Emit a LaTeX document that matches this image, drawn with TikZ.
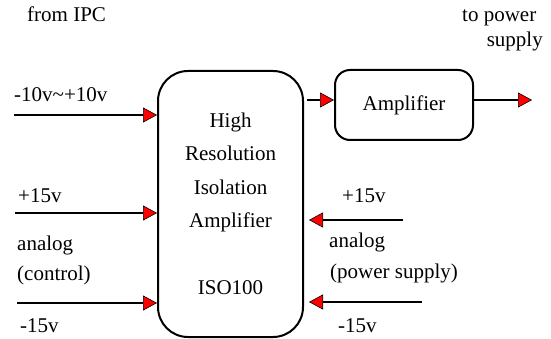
\documentclass[tikz,border=0pt]{standalone}
\usepackage{fontspec}
\setmainfont{Liberation Serif}
\usetikzlibrary{arrows.meta}

\tikzset{
  sig/.style={line width=2pt, -{Triangle[length=14pt,width=15pt,fill=red,line width=0.6pt]}},
  blockbox/.style={draw, line width=2pt, align=center, inner sep=0pt},
  lbl/.style={inner sep=0pt, anchor=base west},
}

\begin{document}
\begin{tikzpicture}[x=1pt, y=-1pt, font=\fontsize{21}{33.5}\selectfont]
    \useasboundingbox (0,0) rectangle (551,339);

    \node[blockbox, rounded corners=30pt, minimum width=145pt, minimum height=266pt] (iso) at (230.5,204) {High\\Resolution\\Isolation\\Amplifier\\[33.5pt]ISO100};
    \node[blockbox, rounded corners=15pt, minimum width=138pt, minimum height=70pt] (amp) at (404,105) {Amplifier};

    \node[lbl] (fromipc) at (27,22) {from IPC};
    \node[lbl] (topower) at (462,22) {to power};
    \node[lbl, anchor=base east] (supply) at (543,47) {supply};
    \node[lbl] (range) at (14,102) {-10v\textasciitilde+10v};

    \node[lbl] (pluslft) at (18,203) {+15v};
    \node[lbl] (anlft) at (17,250) {analog};
    \node[lbl] (ctrl) at (17,280) {(control)};
    \node[lbl] (minlft) at (20,332) {-15v};

    \node[lbl] (plusrgt) at (342,203) {+15v};
    \node[lbl] (anrgt) at (329,247) {analog};
    \node[lbl] (psu) at (330,278) {(power supply)};
    \node[lbl] (minrgt) at (338,332) {-15v};

    \coordinate (in1) at (14,115);
    \coordinate (in2) at (15,213);
    \coordinate (in3) at (17,303);
    \coordinate (in4) at (403,220);
    \coordinate (in5) at (422,302);
    \coordinate (mid) at (307,100);
    \coordinate (out) at (532,100);

    \draw[sig] (in1) -- (iso.west |- in1);
    \draw[sig] (in2) -- (iso.west |- in2);
    \draw[sig] (in3) -- (iso.west |- in3);
    \draw[sig, shorten >=5pt] (in4) -- (iso.east |- in4);
    \draw[sig, shorten >=5pt] (in5) -- (iso.east |- in5);
    \draw[sig] (mid) -- (amp.west |- mid);
    \draw[sig] (amp.east |- out) -- (out);
\end{tikzpicture}
\end{document}
